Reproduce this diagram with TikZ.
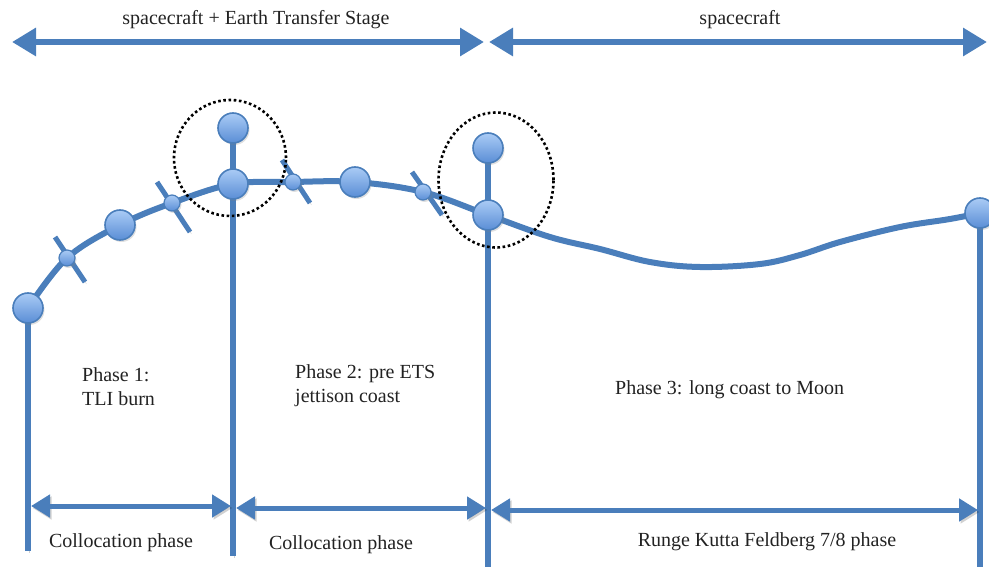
\documentclass[tikz,border=0pt]{standalone}
\usepackage{fontspec}
\setmainfont{Liberation Serif}
\usetikzlibrary{arrows.meta,shadows,shapes.geometric}
\definecolor{lineblue}{HTML}{4A7EBB}
\definecolor{balltop}{HTML}{AACBF5}
\definecolor{ballbot}{HTML}{5A8ED6}
\definecolor{inkgray}{HTML}{222222}
\begin{document}
\begin{tikzpicture}[x=1pt,y=-1pt,
  lbl/.style={font=\fontsize{20}{24}\selectfont, text=inkgray, inner sep=0pt},
  softshadow/.style={preaction={draw=black, opacity=0.18, transform canvas={shift={(1.5pt,-2pt)}}}},
  span/.style={draw=lineblue, line width=6pt, softshadow,
    {Triangle[length=24pt,width=27pt]}-{Triangle[length=24pt,width=27pt]}},
  subspan/.style={draw=lineblue, line width=5pt, softshadow,
    {Triangle[length=19pt,width=22pt]}-{Triangle[length=19pt,width=22pt]}},
  stem/.style={draw=lineblue, line width=6pt, softshadow},
  traj/.style={draw=lineblue, line width=6pt, line join=round, line cap=round, softshadow},
  tick/.style={draw=lineblue, line width=5pt, softshadow},
  bigdot/.style={circle, minimum size=30pt, inner sep=0pt, draw=lineblue, line width=1.6pt,
    top color=balltop, bottom color=ballbot,
    drop shadow={opacity=0.25, shadow xshift=1.5pt, shadow yshift=-2pt}},
  smalldot/.style={bigdot, minimum size=16pt, line width=1.2pt},
  group/.style={ellipse, draw=black, line width=2.6pt, dash pattern=on 2.6pt off 2.6pt, inner sep=0pt},
]
\useasboundingbox (0,0) rectangle (989,567);

% --- points along the trajectory ---
\coordinate (p0) at (28,308);
\coordinate (s1) at (67,258);
\coordinate (p1) at (120,225);
\coordinate (s2) at (172,203);
\coordinate (p2) at (233,184);
\coordinate (q2) at (233,128);
\coordinate (s3) at (293,182);
\coordinate (p3) at (355,182);
\coordinate (s4) at (423,192);
\coordinate (p4) at (488,215);
\coordinate (q4) at (488,148);
\coordinate (p5) at (980,213);

% --- foot ends of the phase boundaries ---
\coordinate (b0) at (28,551);
\coordinate (b2) at (233,556);
\coordinate (b4) at (488,567);
\coordinate (b5) at (980,567);

% --- vehicle-configuration spans ---
\coordinate (ta) at (12,42);
\coordinate (tb) at (484,42);
\coordinate (tc) at (489,42);
\coordinate (td) at (987,42);
\draw[span] (ta) -- (tb);
\draw[span] (tc) -- (td);
\node[lbl] (cfg1) at (256,20) {spacecraft + Earth Transfer Stage};
\node[lbl] (cfg2) at (740,20) {spacecraft};

% --- phase boundaries ---
\draw[stem] (p0) -- (b0);
\draw[stem] (q2) -- (b2);
\draw[stem] (q4) -- (b4);
\draw[stem] (p5) -- (b5);

% --- trajectory ---
\draw[traj] plot[smooth, tension=0.6] coordinates {
  (p0) (s1) (p1) (s2) (p2) (s3) (p3) (s4) (p4)
  (550,237) (600,249) (650,262) (700,267)
  (760,264) (800,255) (840,242) (900,227) (950,219) (p5)};

% --- segment ticks ---
\coordinate (t1a) at (55,237);  \coordinate (t1b) at (85,282);
\coordinate (t2a) at (157,182); \coordinate (t2b) at (190,232);
\coordinate (t3a) at (282,160); \coordinate (t3b) at (310,203);
\coordinate (t4a) at (412,172); \coordinate (t4b) at (442,215);
\draw[tick] (t1a) -- (t1b);
\draw[tick] (t2a) -- (t2b);
\draw[tick] (t3a) -- (t3b);
\draw[tick] (t4a) -- (t4b);

% --- nodes ---
\node[bigdot] (n0) at (p0) {};
\node[smalldot] (m1) at (s1) {};
\node[bigdot] (n1) at (p1) {};
\node[smalldot] (m2) at (s2) {};
\node[bigdot] (n2) at (p2) {};
\node[bigdot] (k2) at (q2) {};
\node[smalldot] (m3) at (s3) {};
\node[bigdot] (n3) at (p3) {};
\node[smalldot] (m4) at (s4) {};
\node[bigdot] (n4) at (p4) {};
\node[bigdot] (k4) at (q4) {};
\node[bigdot] (n5) at (p5) {};

% --- staging events ---
\node[group, minimum width=112pt, minimum height=116pt] (ev1) at (230,158) {};
\node[group, minimum width=115pt, minimum height=135pt] (ev2) at (496,180) {};

% --- phase descriptions ---
\node[lbl, align=left, anchor=west] (ph1) at (82,387) {Phase 1:\\TLI burn};
\node[lbl, align=left, anchor=west] (ph2) at (295,386) {Phase 2: pre ETS\\jettison coast};
\node[lbl, anchor=west] (ph3) at (615,390) {Phase 3: long coast to Moon};

% --- integration method spans ---
\coordinate (u0) at (31,506);  \coordinate (u1) at (231,506);
\coordinate (u2) at (236,508); \coordinate (u3) at (486,508);
\coordinate (u4) at (491,510); \coordinate (u5) at (978,510);
\draw[subspan] (u0) -- (u1);
\draw[subspan] (u2) -- (u3);
\draw[subspan] (u4) -- (u5);
\node[lbl] (lab1) at (121,543) {Collocation phase};
\node[lbl] (lab2) at (341,545) {Collocation phase};
\node[lbl] (lab3) at (767,542) {Runge Kutta Feldberg 7/8 phase};
\end{tikzpicture}
\end{document}
